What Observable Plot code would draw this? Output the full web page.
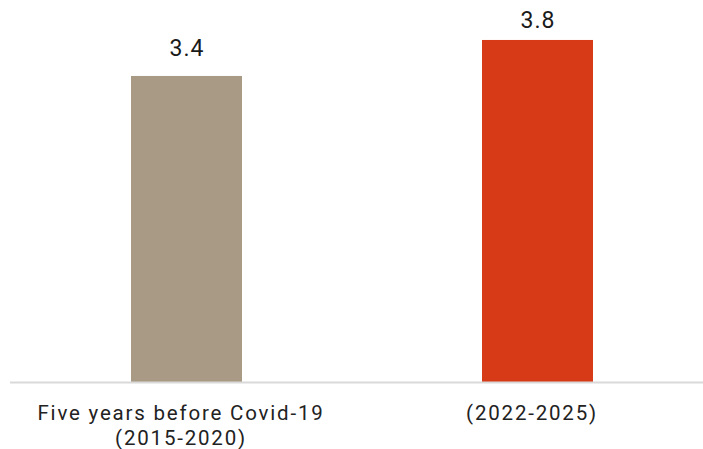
<!DOCTYPE html>
<html>
<head>
<meta charset="utf-8">
<script src="https://cdn.jsdelivr.net/npm/d3@7"></script>
<script src="https://cdn.jsdelivr.net/npm/@observablehq/plot@0.6"></script>
<style>
  html, body { margin: 0; padding: 0; background: #fff; }
  #chart svg { display: block; }
  #chart g[aria-label="text"] text { letter-spacing: 1px; }
  #chart g[aria-label="x-axis tick label"] text { letter-spacing: 1.8px; }
</style>
</head>
<body>
<div id="chart"></div>
<script>
const categories = ["Five years before Covid-19\n(2015-2020)", "(2022-2025)"];
const values = [3.4, 3.8];
const colors = ["#a89a85", "#d63a16"];

const data = categories.map((c, i) => ({category: c, value: values[i], color: colors[i]}));

const chart = Plot.plot({
  width: 703,
  height: 449,
  marginTop: 0,
  marginBottom: 67,
  marginLeft: 10,
  marginRight: 0,
  style: {fontFamily: "Roboto, sans-serif", background: "#fff"},
  x: {domain: categories, paddingInner: 0.684, paddingOuter: 0.329, align: 0.524, label: null},
  y: {domain: [0, 4.244], axis: null},
  marks: [
    Plot.barY(data, {x: "category", y: "value", fill: "color"}),
    Plot.ruleY([0], {stroke: "#d9d9d9", strokeWidth: 2}),
    Plot.text(data.slice(0, 1), {x: "category", y: "value", text: d => d.value.toFixed(1), dy: -27.5, fontSize: 23, fill: "#1a1a1a"}),
    Plot.text(data.slice(1), {x: "category", y: "value", text: d => d.value.toFixed(1), dy: -20, fontSize: 23, fill: "#1a1a1a"}),
    Plot.axisX({tickSize: 0, tickPadding: 20, dx: -6, fontSize: 20.5, fill: "#222", lineHeight: 1.22, label: null})
  ]
});
document.getElementById("chart").append(chart);
</script>
</body>
</html>
